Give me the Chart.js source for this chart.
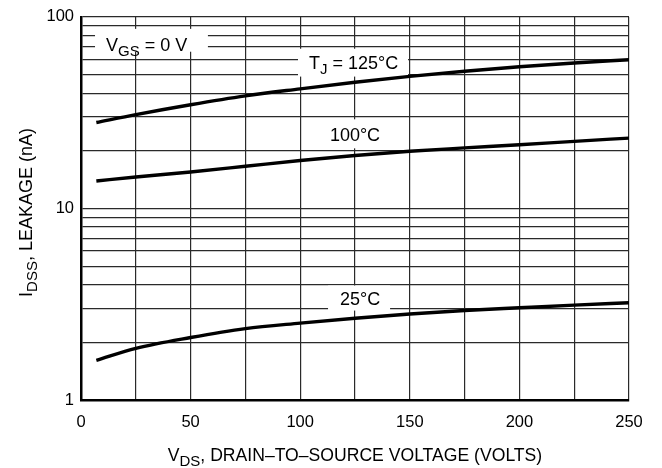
<!DOCTYPE html>
<html>
<head>
<meta charset="utf-8">
<script src="https://cdn.jsdelivr.net/npm/chart.js@4/dist/chart.umd.min.js"></script>
<style>
  html, body { margin: 0; padding: 0; background: #fff; }
  #wrap { width: 662px; height: 468px; }
</style>
</head>
<body>
<div id="wrap"><canvas id="myChart" width="662" height="468"></canvas></div>
<script>
// DATA
var vds = [7, 25, 50, 75, 100, 125, 150, 175, 200, 225, 250];
var leak125 = [28.1, 30.9, 34.8, 38.7, 42.1, 45.6, 48.9, 52.0, 54.9, 57.5, 59.8];
var leak100 = [13.9, 14.6, 15.5, 16.6, 17.8, 18.9, 19.9, 20.7, 21.5, 22.4, 23.3];
var leak25 = [1.61, 1.86, 2.12, 2.36, 2.52, 2.67, 2.81, 2.93, 3.03, 3.13, 3.22];
var xGrid = [0, 25, 50, 75, 100, 125, 150, 175, 200, 225, 250];
var xTickLabels = [0, 50, 100, 150, 200, 250];
var yGrid = [1, 2, 3, 4, 5, 6, 7, 8, 9, 10, 20, 30, 40, 50, 60, 70, 80, 90, 100];
var yTickLabels = [1, 10, 100];

var FONT = "'Liberation Sans', Arial, Helvetica, sans-serif";

function pts(ys) {
  return vds.map((x, i) => ({ x: x, y: ys[i] }));
}

// draw text with subscripts: parts = [[text, isSub], ...]
function drawRich(ctx, parts, x, y, align, size) {
  let sub = Math.round(size * 0.84);
  let w = 0;
  parts.forEach((p) => {
    ctx.font = (p[1] ? sub : size) + "px " + FONT;
    w += ctx.measureText(p[0]).width;
  });
  let cx = align == "center" ? x - w / 2 : x;
  ctx.textAlign = "left";
  ctx.textBaseline = "alphabetic";
  parts.forEach((p) => {
    ctx.font = (p[1] ? sub : size) + "px " + FONT;
    ctx.fillText(p[0], cx, p[1] ? y + 5 : y);
    cx += ctx.measureText(p[0]).width;
  });
}

// labels inside the plot, boxes in data units
var notes = [
  { box: [6.4, 57.9, 86.6, 65.8], at: [11.4, 71.6], align: "left", parts: [["V"], ["GS", 1], [" = 0 V"]] },
  { box: [99, 149.2, 68.2, 48.8], at: [104, 57.7], align: "left", parts: [["T"], ["J", 1], [" = 125°C"]] },
  { box: [108.1, 139.6, 29.2, 20.6], at: [125, 24.4], align: "center", parts: [["100°C"]] },
  { box: [112.7, 141, 3.96, 2.93], at: [127.3, 3.39], align: "center", parts: [["25°C"]] },
];

var notesPlugin = {
  id: "notes",
  beforeDatasetsDraw(chart) {
    let ctx = chart.ctx;
    let xs = chart.scales.x, ys = chart.scales.y;
    ctx.save();
    notes.forEach((n) => {
      let x0 = xs.getPixelForValue(n.box[0]), x1 = xs.getPixelForValue(n.box[1]);
      let y0 = ys.getPixelForValue(n.box[2]), y1 = ys.getPixelForValue(n.box[3]);
      ctx.fillStyle = "#fff";
      ctx.fillRect(x0, y0, x1 - x0, y1 - y0);
      ctx.fillStyle = "#000";
      drawRich(ctx, n.parts, xs.getPixelForValue(n.at[0]), ys.getPixelForValue(n.at[1]) + 6.5, n.align, 18);
    });
    ctx.restore();
  },
  afterDraw(chart) {
    let ctx = chart.ctx;
    let a = chart.chartArea;
    ctx.save();
    ctx.fillStyle = "#000";
    // x axis title
    drawRich(ctx, [["V"], ["DS", 1], [", DRAIN\u2013TO\u2013SOURCE VOLTAGE (VOLTS)"]], (a.left + a.right) / 2, 461, "center", 17.6);
    // y axis title
    ctx.translate(32, (a.top + a.bottom) / 2 + 4);
    ctx.rotate(-Math.PI / 2);
    drawRich(ctx, [["I"], ["DSS", 1], [", LEAKAGE (nA)"]], 0, 0, "center", 18);
    ctx.restore();
  },
};

var lineStyle = {
  borderColor: "#000",
  borderWidth: 3.4,
  pointRadius: 0,
  fill: false,
  cubicInterpolationMode: "monotone",
};

new Chart("myChart", {
  type: "line",
  data: {
    datasets: [
      Object.assign({ label: "125°C", data: pts(leak125) }, lineStyle),
      Object.assign({ label: "100°C", data: pts(leak100) }, lineStyle),
      Object.assign({ label: "25°C", data: pts(leak25) }, lineStyle),
    ],
  },
  options: {
    responsive: false,
    animation: false,
    events: [],
    layout: { padding: { left: 0, top: 15, right: 33, bottom: 0 } },
    plugins: { legend: { display: false }, tooltip: { enabled: false } },
    scales: {
      x: {
        type: "linear",
        min: 0,
        max: 250,
        afterBuildTicks: (s) => { s.ticks = xGrid.map((v) => ({ value: v })); },
        afterFit: (s) => { s.height = 68; },
        ticks: {
          autoSkip: false,
          maxRotation: 0,
          padding: 13,
          color: "#000",
          font: { family: FONT, size: 16.5 },
          callback: (v) => (xTickLabels.includes(v) ? String(v) : ""),
        },
        grid: { color: "#2a2a2a", lineWidth: 1.2, drawTicks: false },
        border: { color: "#000", width: 2.5 },
      },
      y: {
        type: "logarithmic",
        min: 1,
        max: 100,
        afterBuildTicks: (s) => { s.ticks = yGrid.map((v) => ({ value: v })); },
        afterFit: (s) => { s.width = 81; },
        ticks: {
          autoSkip: false,
          padding: 7,
          color: "#000",
          font: { family: FONT, size: 16.5 },
          callback: (v) => (yTickLabels.includes(v) ? String(v) : ""),
        },
        grid: { color: "#2a2a2a", lineWidth: 1.2, drawTicks: false },
        border: { color: "#000", width: 2.5 },
      },
    },
  },
  plugins: [notesPlugin],
});
</script>
</body>
</html>
